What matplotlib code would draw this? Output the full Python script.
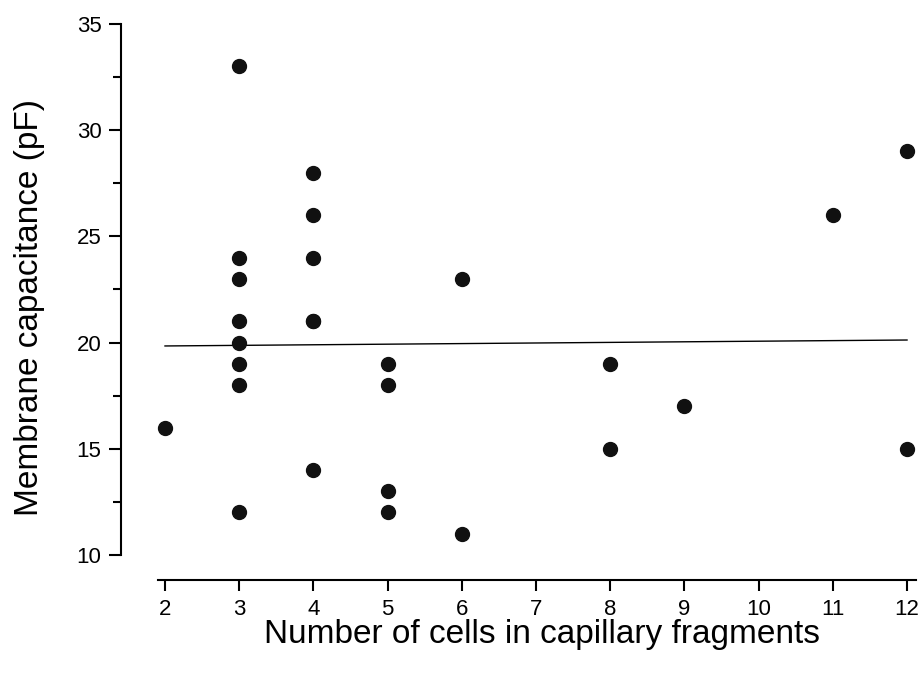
import matplotlib
matplotlib.use("Agg")
import matplotlib.pyplot as plt
import numpy as np
from matplotlib.ticker import MultipleLocator

plt.rcParams['font.family'] = ['Liberation Sans', 'DejaVu Sans']

cells = [2, 3, 3, 3, 3, 3, 3, 3, 3, 4, 4, 4, 4, 4, 4, 5, 5, 5, 5, 6, 6, 8, 8, 9, 11, 12, 12]
capacitance = [16, 33, 24, 23, 21, 20, 19, 18, 12, 28, 26, 24, 21, 21, 14, 19, 18, 13, 12, 23, 11, 19, 15, 17, 26, 29, 15]
fit_x = [2, 12]
fit_y = [19.84, 20.12]
xticks = [2, 3, 4, 5, 6, 7, 8, 9, 10, 11, 12]
yticks = [10, 15, 20, 25, 30, 35]

fig = plt.figure(figsize=(9.24, 6.75), dpi=100)
ax = fig.add_axes([121/924, 1 - 580/675, (916-121)/924, (580-24)/675])
ax.plot(fit_x, fit_y, color='black', lw=1.0)
ax.plot(cells, capacitance, 'o', color='#111111', ms=10, clip_on=False)

ax.set_xlim(1.407, 12.121)
ax.set_ylim(8.82, 35)
ax.spines['top'].set_visible(False)
ax.spines['right'].set_visible(False)
ax.spines['left'].set_bounds(10, 35)
ax.spines['bottom'].set_bounds(1.906, 12.121)
for s in ['left', 'bottom']:
    ax.spines[s].set_linewidth(1.5)
ax.set_xticks(xticks)
ax.set_yticks(yticks)
ax.yaxis.set_minor_locator(MultipleLocator(2.5))
ax.tick_params(axis='y', which='major', length=9, width=1.5, labelsize=16, direction='out', pad=5)
ax.tick_params(axis='x', which='major', length=8, width=1.5, labelsize=16, direction='out', pad=6)
ax.tick_params(axis='y', which='minor', length=5.5, width=1.5)
ax.set_xlabel('Number of cells in capillary fragments', fontsize=24)
ax.set_ylabel('Membrane capacitance (pF)', fontsize=24)
ax.xaxis.set_label_coords(0.53, -0.071)
ax.yaxis.set_label_coords(-0.096, 0.49)

fig.savefig('out.png', dpi=100)
